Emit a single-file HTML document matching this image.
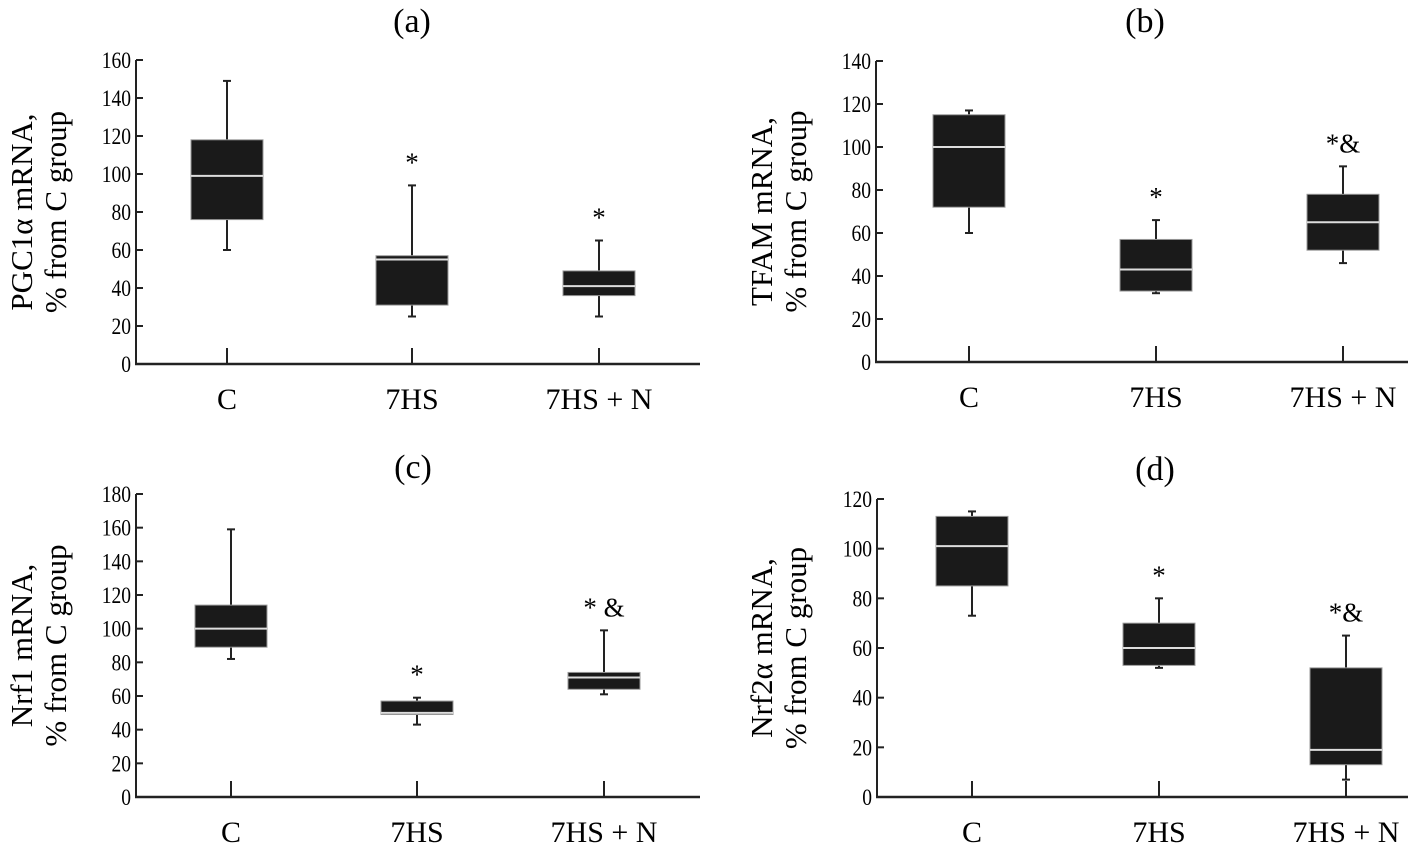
<!DOCTYPE html>
<html><head><meta charset="utf-8"><style>
html,body{margin:0;padding:0;background:#fff;}
svg{display:block;font-family:"Liberation Serif","DejaVu Serif",serif;}
</style></head><body>
<svg id="fig" width="1408" height="855" viewBox="0 0 1408 855" xmlns="http://www.w3.org/2000/svg"></svg>
<script>
const categories = ["C", "7HS", "7HS + N"];
// panel a: PGC1a
const aWhiskerLow = [60, 25, 25];
const aQ1 = [76, 31, 36];
const aMedian = [99, 55, 41];
const aQ3 = [118, 57, 49];
const aWhiskerHigh = [149, 94, 65];
const aMarks = ["", "*", "*"];
const aTicks = [0, 20, 40, 60, 80, 100, 120, 140, 160];
// panel b: TFAM
const bWhiskerLow = [60, 32, 46];
const bQ1 = [72, 33, 52];
const bMedian = [100, 43, 65];
const bQ3 = [115, 57, 78];
const bWhiskerHigh = [117, 66, 91];
const bMarks = ["", "*", "*&"];
const bTicks = [0, 20, 40, 60, 80, 100, 120, 140];
// panel c: Nrf1
const cWhiskerLow = [82, 43, 61];
const cQ1 = [89, 49, 64];
const cMedian = [100, 50, 71];
const cQ3 = [114, 57, 74];
const cWhiskerHigh = [159, 59, 99];
const cMarks = ["", "*", "* &"];
const cTicks = [0, 20, 40, 60, 80, 100, 120, 140, 160, 180];
// panel d: Nrf2a
const dWhiskerLow = [73, 52, 7];
const dQ1 = [85, 53, 13];
const dMedian = [101, 60, 19];
const dQ3 = [113, 70, 52];
const dWhiskerHigh = [115, 80, 65];
const dMarks = ["", "*", "*&"];
const dTicks = [0, 20, 40, 60, 80, 100, 120];

const NS = "http://www.w3.org/2000/svg";
const svg = document.getElementById("fig");
function mk(tag, attrs, parent, txt){
  const e = document.createElementNS(NS, tag);
  for (const k in attrs) e.setAttribute(k, attrs[k]);
  if (txt !== undefined) e.textContent = txt;
  parent.appendChild(e);
  return e;
}
function panel(id, title, titleX, titleY, ax, y0, yTop, xEnd, cx, ymax, ticks, lo, q1, med, q3, hi, marks, yl1, yl2, ylx){
  const g = mk("g", {}, svg);
  
  
  const ys = v => y0 - (v / ymax) * (y0 - yTop);
  const t = mk("text", {x: titleX, y: titleY, "font-size": 34, "text-anchor": "middle"}, g, "(" + id + ")");
  
  
  const yt = mk("text", {transform: "translate(" + ylx + "," + ((y0 + yTop) / 2) + ") rotate(-90)", "font-size": 31, "text-anchor": "middle"}, g);
  
  
  mk("tspan", {x: 0, dy: 0}, yt, yl1);
  mk("tspan", {x: 0, dy: 34}, yt, yl2);
  const ya = mk("line", {x1: ax, y1: yTop, x2: ax, y2: y0 + 1, stroke: "#222", "stroke-width": 2}, g);
  
  
  const xa = mk("line", {x1: ax - 1, y1: y0, x2: xEnd, y2: y0, stroke: "#222", "stroke-width": 2.5}, g);
  
  
  ticks.forEach(v => {
    const y = ys(v);
    mk("line", {x1: ax, y1: y, x2: ax + 7, y2: y, stroke: "#222", "stroke-width": 2}, g);
    const tl = mk("text", {x: 0, y: 0, transform: "translate(" + (ax - 5) + "," + (y + 8) + ") scale(0.85,1)", "font-size": 23, "text-anchor": "end"}, g, v);
    
    
  });
  categories.forEach((c, i) => {
    const x = cx[i];
    mk("line", {x1: x, y1: y0, x2: x, y2: y0 - 16, stroke: "#222", "stroke-width": 2}, g);
    const xl = mk("text", {x: x, y: y0 + 45, "font-size": 30, "text-anchor": "middle"}, g, c);
    
    
    const bw = 72;
    const wk = mk("line", {x1: x, y1: ys(lo[i]), x2: x, y2: ys(hi[i]), stroke: "#222", "stroke-width": 2}, g);
    
    
    mk("line", {x1: x - 4, y1: ys(lo[i]), x2: x + 4, y2: ys(lo[i]), stroke: "#222", "stroke-width": 2}, g);
    mk("line", {x1: x - 4, y1: ys(hi[i]), x2: x + 4, y2: ys(hi[i]), stroke: "#222", "stroke-width": 2}, g);
    const bx = mk("rect", {x: x - bw / 2, y: ys(q3[i]), width: bw, height: ys(q1[i]) - ys(q3[i]), fill: "#1a1a1a", stroke: "#999", "stroke-width": 1}, g);
    
    
    const md = mk("line", {x1: x - bw / 2, y1: ys(med[i]), x2: x + bw / 2, y2: ys(med[i]), stroke: "#ddd", "stroke-width": 2}, g);
    
    
    if (marks[i]) {
      const mt = mk("text", {x: x, y: ys(hi[i]) - 14, "font-size": 27, "text-anchor": "middle"}, g, marks[i]);
      
      
    }
  });
}
panel("a", "", 412, 32, 136, 364, 60, 700, [227, 412, 599], 160, aTicks, aWhiskerLow, aQ1, aMedian, aQ3, aWhiskerHigh, aMarks, "PGC1\u03b1 mRNA,", "% from C group", 32);
panel("b", "", 1145, 32, 876, 362, 61, 1408, [969, 1156, 1343], 140, bTicks, bWhiskerLow, bQ1, bMedian, bQ3, bWhiskerHigh, bMarks, "TFAM mRNA,", "% from C group", 772);
panel("c", "", 413, 478, 136, 797, 494, 700, [231, 417, 604], 180, cTicks, cWhiskerLow, cQ1, cMedian, cQ3, cWhiskerHigh, cMarks, "Nrf1 mRNA,", "% from C group", 32);
panel("d", "", 1155, 480, 877, 797, 499, 1408, [972, 1159, 1346], 120, dTicks, dWhiskerLow, dQ1, dMedian, dQ3, dWhiskerHigh, dMarks, "Nrf2\u03b1 mRNA,", "% from C group", 772);
</script>
</body></html>
